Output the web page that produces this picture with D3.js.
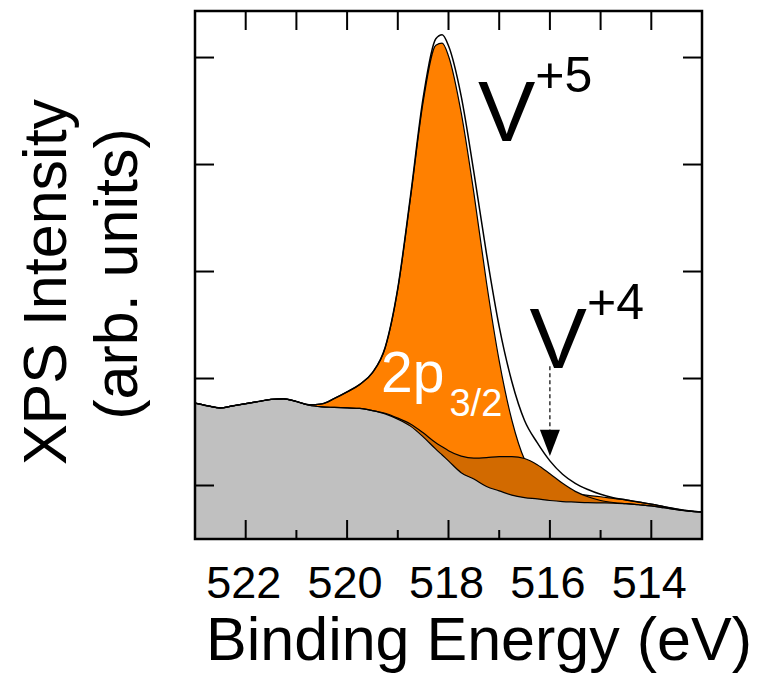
<!DOCTYPE html>
<html><head><meta charset="utf-8">
<script src="https://cdn.jsdelivr.net/npm/d3@7"></script>
<style>body{margin:0;background:#fff}svg{display:block}</style>
</head><body>
<svg id="c" width="758" height="680"></svg>
<script>
// Binding energy grid (eV)
const energies = [523.0,522.75,522.5,522.25,522.0,521.75,521.5,521.25,521.0,520.75,520.5,520.25,520.0,519.75,519.5,519.25,519.0,518.75,518.5,518.25,518.125,518.0,517.75,517.5,517.25,517.0,516.75,516.5,516.25,516.0,515.75,515.5,515.25,515.0,514.75,514.5,514.25,514.0,513.75,513.5,513.25,513.0];
// Shirley-type background (arb. units)
const background = [25.4,24.9,24.5,24.9,25.3,25.7,26.1,26.2,25.7,25.0,24.7,24.6,24.5,24.4,24.0,23.4,22.4,21.1,19.1,16.8,15.7,14.6,12.4,11.2,9.8,9.0,8.2,7.75,7.5,7.2,7.0,6.9,6.8,6.75,6.7,6.6,6.4,6.2,5.85,5.5,5.2,5.05];
// V+5 2p3/2 component (above background)
const v5 = [0,0,0,0,0,0,0,0,0,0.1,0.56,1.68,3.0,4.5,7.1,12.3,24.3,42.6,62.6,75.5,77.0,75.7,67.3,53.5,38.1,24.3,14.0,7.1,4.1,2.4,1.7,1.5,1.35,1.15,0.9,0.7,0.5,0.32,0.2,0.1,0.04,0];
// V+4 2p3/2 component (above background)
const v4 = [0,0,0,0,0,0,0,0,0,0,0,0,0,0,0,0.1,0.2,0.4,0.75,1.2,1.55,1.9,3.1,3.9,5.4,6.4,7.2,7.3,6.4,5.0,3.4,2.0,1.1,0.45,0.12,0,0,0,0,0,0,0];

const xMajorTicks = [522,520,518,516,514];
const xMinorTicks = [521,519,517,515];
const yTicks = [10,30,50,70,90];

// annotation anchors in data coordinates
const labelV5 = {e:517.42, v:74.4, main:"V", sup:"+5"};
const labelV4 = {e:516.40, v:32.0, main:"V", sup:"+4"};
const label2p = {e:519.33, v:27.5, main:"2p", sub:"3/2"};
const arrowV4 = {e:516.0, vStart:32.3, vHead:20.4, vTip:15.5};

const FONT = "'Liberation Sans', Arial, Helvetica, sans-serif";
const svg = d3.select("#c");
const L=195, R=702, T=11, B=539;
const x = d3.scaleLinear().domain([523,513]).range([L,R]);
const y = d3.scaleLinear().domain([0,98.7]).range([B,T]);

const data = energies.map((e,i)=>({e, bg:background[i], v5:v5[i], v4:v4[i]}));

svg.append("defs").append("clipPath").attr("id","clip")
  .append("rect").attr("x",L).attr("y",T).attr("width",R-L).attr("height",B-T);
const g = svg.append("g").attr("clip-path","url(#clip)");
const crv = d3.curveMonotoneX;
const line = f => d3.line().curve(crv).x(d=>x(d.e)).y(d=>y(f(d)));
const stroke = (sel,w)=>sel.attr("fill","none").attr("stroke","#000").attr("stroke-width",w);

// background fill
g.append("path").datum(data)
  .attr("d", d3.area().curve(crv).x(d=>x(d.e)).y0(y(0)).y1(d=>y(d.bg)))
  .attr("fill","#c0c0c0");
// V+5 fill + outline
g.append("path").datum(data)
  .attr("d", d3.area().curve(crv).x(d=>x(d.e)).y0(d=>y(d.bg)).y1(d=>y(d.bg+d.v5)))
  .attr("fill","#ff8000");
stroke(g.append("path").datum(data).attr("d", line(d=>d.bg+d.v5)),1.2);
// V+4 fill + outline (drawn over)
g.append("path").datum(data)
  .attr("d", d3.area().curve(crv).x(d=>x(d.e)).y0(d=>y(d.bg)).y1(d=>y(d.bg+d.v4)))
  .attr("fill","#d26a00");
stroke(g.append("path").datum(data).attr("d", line(d=>d.bg+d.v4)),1.2);
// background line
stroke(g.append("path").datum(data).attr("d", line(d=>d.bg)),1.2);
// envelope
stroke(g.append("path").datum(data).attr("d", line(d=>d.bg+d.v5+d.v4)),1.5);

// frame
svg.append("rect").attr("x",L).attr("y",T).attr("width",R-L).attr("height",B-T)
  .attr("fill","none").attr("stroke","#000").attr("stroke-width",2.5);

// ticks
const tk = svg.append("g").attr("stroke","#000").attr("stroke-width",2);
xMajorTicks.forEach(t=>{
  tk.append("line").attr("x1",x(t)).attr("x2",x(t)).attr("y1",B).attr("y2",B-19);
  tk.append("line").attr("x1",x(t)).attr("x2",x(t)).attr("y1",T).attr("y2",T+19);
});
xMinorTicks.forEach(t=>{
  tk.append("line").attr("x1",x(t)).attr("x2",x(t)).attr("y1",B).attr("y2",B-9);
  tk.append("line").attr("x1",x(t)).attr("x2",x(t)).attr("y1",T).attr("y2",T+19);
});
yTicks.forEach(t=>{
  tk.append("line").attr("x1",L).attr("x2",L+19).attr("y1",y(t)).attr("y2",y(t));
  tk.append("line").attr("x1",R).attr("x2",R-19).attr("y1",y(t)).attr("y2",y(t));
});

// tick labels
svg.append("g").selectAll("text").data(xMajorTicks).join("text")
  .attr("x",d=>x(d)-2).attr("y",598).attr("text-anchor","middle")
  .attr("font-family",FONT).attr("font-size",45).attr("fill","#000")
  .text(d=>d);

// axis titles
svg.append("text").attr("x",479).attr("y",660).attr("text-anchor","middle")
  .attr("font-family",FONT).attr("font-size",61).text("Binding Energy (eV)");
svg.append("text").attr("transform","translate(66,282) rotate(-90)").attr("text-anchor","middle")
  .attr("font-family",FONT).attr("font-size",61).text("XPS Intensity");
svg.append("text").attr("transform","translate(137,274) rotate(-90)").attr("text-anchor","middle")
  .attr("font-family",FONT).attr("font-size",61).text("(arb. units)");

// annotations
function supLabel(lb){
  const t = svg.append("text").attr("x",x(lb.e)).attr("y",y(lb.v))
    .attr("font-family",FONT).attr("font-size",86).attr("fill","#000");
  t.append("tspan").text(lb.main);
  t.append("tspan").attr("font-size",50).attr("dy",-49).text(lb.sup);
}
supLabel(labelV5);
supLabel(labelV4);

const t2 = svg.append("text").attr("x",x(label2p.e)).attr("y",y(label2p.v))
  .attr("font-family",FONT).attr("font-size",57).attr("fill","#fff");
t2.append("tspan").text(label2p.main);
t2.append("tspan").attr("font-size",38).attr("dx",5).attr("dy",24).text(label2p.sub);

// arrow
svg.append("line").attr("x1",x(arrowV4.e)).attr("x2",x(arrowV4.e))
  .attr("y1",y(arrowV4.vStart)).attr("y2",y(arrowV4.vHead))
  .attr("stroke","#000").attr("stroke-width",1.2).attr("stroke-dasharray","4,3");
const ax = x(arrowV4.e), ah = y(arrowV4.vHead), at = y(arrowV4.vTip);
svg.append("path").attr("d",`M${ax-10},${ah}L${ax+10},${ah}L${ax},${at}Z`).attr("fill","#000");
</script>
</body></html>
